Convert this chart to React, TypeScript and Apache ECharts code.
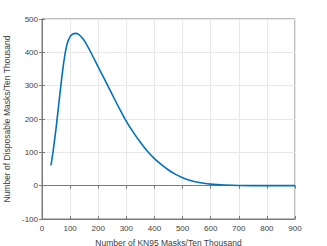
import React, { useEffect, useRef } from "react";
import * as echarts from "echarts";

const xValues = [32, 40, 50, 60, 70, 80, 90, 100, 110, 120, 130, 140, 150, 175, 200, 225, 250, 275, 300, 325, 350, 375, 400, 425, 450, 475, 500, 525, 550, 575, 600, 650, 700, 800, 900];
const yValues = [61, 106, 172, 247, 322, 385, 427, 447, 455, 457, 454, 446, 436, 398, 356, 315, 273, 232, 193, 160, 130, 103, 81, 63, 47, 34, 24, 16, 11, 7, 4.5, 2, 0.5, 0, 0];

const xTicks = [0, 100, 200, 300, 400, 500, 600, 700, 800, 900];
const yTicks = [-100, 0, 100, 200, 300, 400, 500];

const xName = "Number of KN95 Masks/Ten Thousand";
const yName = "Number of Disposable Masks/Ten Thousand";

export default function App() {
  const ref = useRef<HTMLDivElement>(null);
  useEffect(() => {
    const chart = echarts.init(ref.current!, null, { renderer: "svg" });
    const font = "Liberation Sans, Arial, sans-serif";
    const axisColor = "#7a7a7a";
    const labelColor = "#404040";
    chart.setOption({
      animation: false,
      grid: {
        left: 42,
        right: 32,
        top: 19,
        bottom: 27,
        containLabel: false,
        outerBoundsMode: "none",
        show: true,
        borderColor: axisColor,
        borderWidth: 1,
        backgroundColor: "#fff",
      },
      xAxis: [
        {
          type: "value",
          min: xTicks[0],
          max: xTicks[xTicks.length - 1],
          interval: 100,
          name: xName,
          nameLocation: "middle",
          nameGap: 19,
          nameTextStyle: { fontFamily: font, fontSize: 8.5, color: labelColor },
          axisLine: { show: true, onZero: false, lineStyle: { color: axisColor } },
          axisTick: { show: true, inside: true, length: 3, lineStyle: { color: axisColor } },
          axisLabel: { fontFamily: font, fontSize: 8, color: labelColor, margin: 5 },
          splitLine: { show: true, lineStyle: { color: "#e8e8e8", width: 1 } },
        },
        {
          type: "value",
          position: "top",
          min: xTicks[0],
          max: xTicks[xTicks.length - 1],
          interval: 100,
          axisLine: { show: true, lineStyle: { color: axisColor } },
          axisTick: { show: true, inside: true, length: 3, lineStyle: { color: axisColor } },
          axisLabel: { show: false },
          splitLine: { show: false },
        },
      ],
      yAxis: [
        {
          type: "value",
          min: yTicks[0],
          max: yTicks[yTicks.length - 1],
          interval: 100,
          name: yName,
          nameLocation: "middle",
          nameGap: 26,
          nameTextStyle: { fontFamily: font, fontSize: 8.5, color: labelColor },
          axisLine: { show: true, onZero: false, lineStyle: { color: axisColor } },
          axisTick: { show: true, inside: true, length: 3, lineStyle: { color: axisColor } },
          axisLabel: { fontFamily: font, fontSize: 8, color: labelColor, margin: 4 },
          splitLine: { show: true, lineStyle: { color: "#e8e8e8", width: 1 } },
        },
        {
          type: "value",
          position: "right",
          min: yTicks[0],
          max: yTicks[yTicks.length - 1],
          interval: 100,
          axisLine: { show: true, lineStyle: { color: axisColor } },
          axisTick: { show: true, inside: true, length: 3, lineStyle: { color: axisColor } },
          axisLabel: { show: false },
          splitLine: { show: false },
        },
      ],
      series: [
        {
          type: "line",
          data: xValues.map((x, i) => [x, yValues[i]]),
          smooth: 0.2,
          showSymbol: false,
          lineStyle: { color: "#0072BD", width: 1.6 },
          xAxisIndex: 0,
          yAxisIndex: 0,
        },
      ],
    });
    return () => chart.dispose();
  }, []);
  return <div ref={ref} style={{ width: 327, height: 246, position: "absolute", left: 0, top: 0 }} />;
}
